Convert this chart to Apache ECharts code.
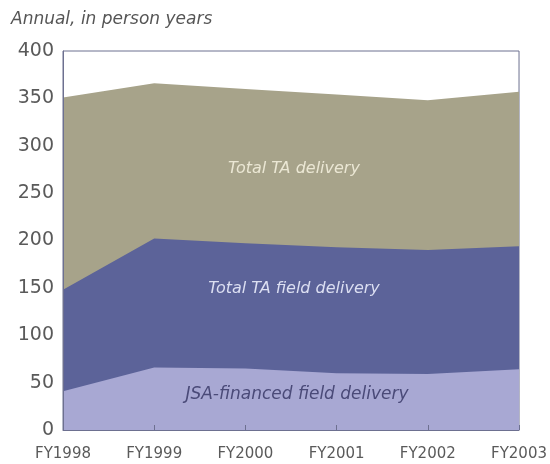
<!DOCTYPE html>
<html>
<head>
<meta charset="utf-8">
<script src="https://cdn.jsdelivr.net/npm/echarts@6/dist/echarts.min.js"></script>
<style>
  html, body { margin: 0; padding: 0; background: #fff; }
  #chart { width: 550px; height: 464px; }
</style>
</head>
<body>
<div id="chart"></div>
<script>
// 财年
const years = ['FY1998', 'FY1999', 'FY2000', 'FY2001', 'FY2002', 'FY2003']
// 各系列总量（非堆叠，逐层覆盖）
const totalTA = [351, 366, 360, 354, 348, 357]
const totalTAField = [148, 202, 197, 193, 190, 194]
const jsaField = [41, 66, 65, 60, 59, 64]
const yTicks = [0, 50, 100, 150, 200, 250, 300, 350, 400]

const chart = echarts.init(document.getElementById('chart'))

const areaSeries = (name, data, color) => ({
  name,
  type: 'line',
  data,
  symbol: 'none',
  lineStyle: { width: 0 },
  areaStyle: { color, opacity: 1 },
  silent: true,
})

chart.setOption({
  animation: false,
  grid: {
    left: 63,
    right: 28,
    top: 51,
    bottom: 34,
    show: true,
    borderColor: '#6d7090',
    borderWidth: 1,
  },
  xAxis: {
    type: 'category',
    data: years,
    boundaryGap: false,
    axisLine: { lineStyle: { color: '#6d7090', width: 1 } },
    axisTick: { inside: true, length: 5, lineStyle: { color: '#6d7090' } },
    axisLabel: {
      color: '#5a5a5a',
      fontFamily: 'DejaVu Sans',
      fontSize: 15,
      margin: 17,
    },
    z: 10,
  },
  yAxis: {
    type: 'value',
    min: yTicks[0],
    max: yTicks[yTicks.length - 1],
    interval: 50,
    splitLine: { show: false },
    axisLine: { show: true, lineStyle: { color: '#6d7090' } },
    axisTick: { show: false },
    axisLabel: {
      color: '#5a5a5a',
      fontFamily: 'DejaVu Sans',
      fontSize: 19,
      margin: 9,
    },
    z: 10,
  },
  graphic: [
    {
      type: 'text',
      left: 11,
      top: 11,
      style: {
        text: 'Annual, in person years',
        fill: '#555',
        font: 'italic 17px "DejaVu Sans"',
      },
    },
    {
      type: 'text',
      x: 294,
      y: 169,
      z: 100,
      style: {
        text: 'Total TA delivery',
        fill: '#ebe7d4',
        font: 'italic 16px "DejaVu Sans"',
        align: 'center',
        verticalAlign: 'middle',
      },
    },
    {
      type: 'text',
      x: 294,
      y: 289,
      z: 100,
      style: {
        text: 'Total TA field delivery',
        fill: '#dcdff2',
        font: 'italic 16px "DejaVu Sans"',
        align: 'center',
        verticalAlign: 'middle',
      },
    },
    {
      type: 'text',
      x: 297,
      y: 395,
      z: 100,
      style: {
        text: 'JSA-financed field delivery',
        fill: '#4a4a78',
        font: 'italic 17px "DejaVu Sans"',
        align: 'center',
        verticalAlign: 'middle',
      },
    },
  ],
  series: [
    areaSeries('Total TA delivery', totalTA, '#a7a38a'),
    areaSeries('Total TA field delivery', totalTAField, '#5c6399'),
    areaSeries('JSA-financed field delivery', jsaField, '#a8a8d3'),
  ],
})
</script>
</body>
</html>
